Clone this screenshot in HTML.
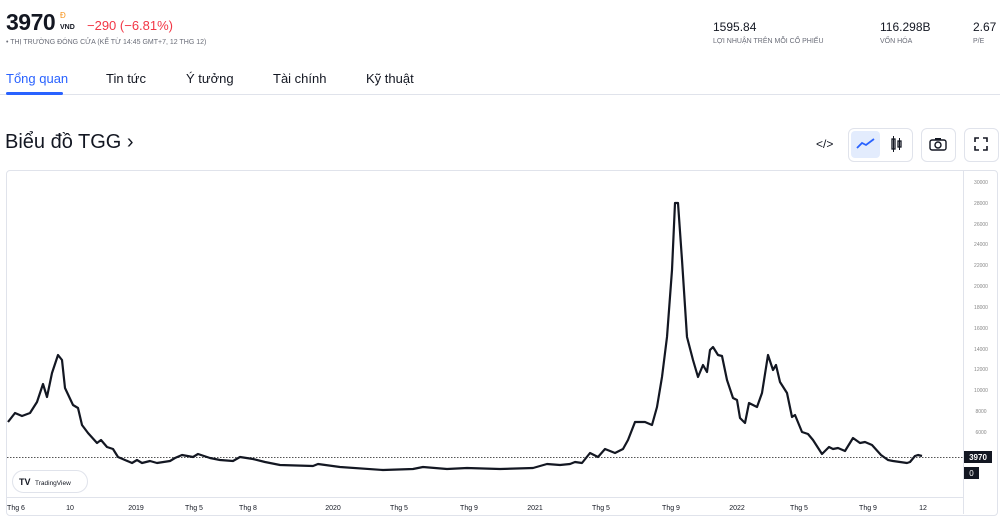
<!DOCTYPE html>
<html><head><meta charset="utf-8"><style>
body{margin:0;width:1000px;height:525px;overflow:hidden;background:#fff;font-family:"Liberation Sans",sans-serif;color:#131722;position:relative}
.a{position:absolute;white-space:nowrap}
</style></head><body>
<div class="a" style="left:6px;top:9px;font-size:23px;font-weight:bold;letter-spacing:-0.5px">3970</div>
<div class="a" style="left:60px;top:11px;font-size:8px;color:#f7931a">Đ</div>
<div class="a" style="left:60px;top:24px;font-size:7px;font-weight:bold">VND</div>
<div class="a" style="left:87px;top:18px;font-size:13px;color:#f23645">−290 (−6.81%)</div>
<div class="a" style="left:6px;top:39px;font-size:7px;color:#6a6d78">• THỊ TRƯỜNG ĐÓNG CỬA (KỂ TỪ 14:45 GMT+7, 12 THG 12)</div>
<div class="a" style="left:713px;top:20px;font-size:12px">1595.84</div>
<div class="a" style="left:713px;top:38px;font-size:7px;color:#6a6d78">LỢI NHUẬN TRÊN MỖI CỔ PHIẾU</div>
<div class="a" style="left:880px;top:20px;font-size:12px">116.298B</div>
<div class="a" style="left:880px;top:38px;font-size:7px;color:#6a6d78">VỐN HÓA</div>
<div class="a" style="left:973px;top:20px;font-size:12px">2.67</div>
<div class="a" style="left:973px;top:38px;font-size:7px;color:#6a6d78">P/E</div>
<div class="a" style="left:6px;top:71px;font-size:13px;color:#2962ff">Tổng quan</div>
<div class="a" style="left:106px;top:71px;font-size:13px">Tin tức</div>
<div class="a" style="left:186px;top:71px;font-size:13px">Ý tưởng</div>
<div class="a" style="left:273px;top:71px;font-size:13px">Tài chính</div>
<div class="a" style="left:366px;top:71px;font-size:13px">Kỹ thuật</div>
<div class="a" style="left:0;top:94px;width:1000px;height:1px;background:#e0e3eb"></div>
<div class="a" style="left:6px;top:92px;width:57px;height:3px;background:#2962ff;border-radius:2px"></div>
<div class="a" style="left:5px;top:131px;font-size:20px">Biểu đồ TGG ›</div>
<div class="a" style="left:816px;top:137px;font-size:12px">&lt;/&gt;</div>
<div class="a" style="left:848px;top:128px;width:63px;height:32px;border:1px solid #e0e3eb;border-radius:6px"></div>
<div class="a" style="left:851px;top:131px;width:29px;height:27px;background:#e3ecfd;border-radius:4px"></div>
<svg class="a" style="left:856px;top:138px" width="20" height="12"><polyline points="1,10 6,5 10,7 18,1" fill="none" stroke="#2962ff" stroke-width="1.8"/></svg>
<svg class="a" style="left:890px;top:136px" width="14" height="16"><rect x="2" y="3" width="3" height="10" fill="none" stroke="#131722" stroke-width="1.3"/><rect x="8" y="5" width="3" height="6" fill="none" stroke="#131722" stroke-width="1.3"/><line x1="3.5" y1="0" x2="3.5" y2="16" stroke="#131722"/><line x1="9.5" y1="2" x2="9.5" y2="14" stroke="#131722"/></svg>
<div class="a" style="left:921px;top:128px;width:33px;height:32px;border:1px solid #e0e3eb;border-radius:6px"></div>
<svg class="a" style="left:929px;top:137px" width="18" height="14"><rect x="1" y="3" width="16" height="10" rx="2" fill="none" stroke="#131722" stroke-width="1.4"/><circle cx="9" cy="8" r="3" fill="none" stroke="#131722" stroke-width="1.4"/><rect x="6" y="1" width="6" height="2" fill="#131722"/></svg>
<div class="a" style="left:964px;top:128px;width:33px;height:32px;border:1px solid #e0e3eb;border-radius:6px"></div>
<svg class="a" style="left:974px;top:137px" width="14" height="14"><path d="M1 5V1H5M9 1H13V5M13 9V13H9M5 13H1V9" fill="none" stroke="#131722" stroke-width="1.6"/></svg>
<div class="a" style="left:6px;top:170px;width:990px;height:344px;border:1px solid #e0e3eb;border-radius:4px"></div>
<svg class="a" style="left:0;top:0" width="1000" height="525">
<line x1="963.5" y1="171" x2="963.5" y2="514" stroke="#e0e3eb"/>
<line x1="7" y1="497.5" x2="963" y2="497.5" stroke="#e0e3eb"/>
<line x1="7" y1="457.5" x2="963" y2="457.5" stroke="#555" stroke-dasharray="1.5,1.5" stroke-width="1"/>
<g font-size="5" fill="#888" text-anchor="middle" font-family="Liberation Sans">
<text x="981" y="184">30000</text><text x="981" y="205">28000</text><text x="981" y="226">26000</text><text x="981" y="246">24000</text><text x="981" y="267">22000</text><text x="981" y="288">20000</text><text x="981" y="309">18000</text><text x="981" y="330">16000</text><text x="981" y="351">14000</text><text x="981" y="371">12000</text><text x="981" y="392">10000</text><text x="981" y="413">8000</text><text x="981" y="434">6000</text>
</g>
<polyline fill="none" stroke="#131722" stroke-width="2.2" stroke-linejoin="round" points="8,422 15,413 22,416 30,413 37,402 43,384 47,397 52,373 58,355 62,360 65,388 73,405 78,408 82,425 88,433 97,443 101,440 107,447 113,449 118,457 132,463 137,460 142,463 150,461 157,463 170,461 175,458 182,455 193,457 198,454 210,458 220,460 233,461 240,457 253,459 265,462 280,465 313,466 318,464 340,467 383,470 413,469 423,467 447,469 467,468 500,469 533,468 547,464 560,465 570,464 575,462 582,463 590,453 598,457 605,449 615,453 623,449 628,440 635,422 645,422 652,425 657,407 662,377 667,337 672,270 675,203 678,203 682,260 687,337 693,360 698,377 703,365 707,372 710,350 713,347 718,355 722,356 727,380 733,398 737,400 740,418 745,423 749,403 757,407 762,393 768,355 773,370 776,365 780,382 787,393 792,417 795,415 802,432 808,434 813,440 822,454 829,447 833,449 838,448 845,451 853,438 860,443 865,442 872,445 881,455 888,460 893,461 907,463 910,462 915,456 918,455 922,456"/>
<rect x="964" y="451" width="28" height="12" fill="#131722"/>
<text x="978" y="460" font-size="8" fill="#fff" text-anchor="middle" font-weight="bold" font-family="Liberation Sans">3970</text>
<rect x="964" y="467" width="15" height="12" fill="#131722"/>
<text x="971.5" y="476" font-size="8" fill="#fff" text-anchor="middle" font-family="Liberation Sans">0</text>
<g font-size="7" fill="#131722" text-anchor="middle" font-family="Liberation Sans">
<text x="16" y="510">Thg 6</text><text x="70" y="510">10</text><text x="136" y="510">2019</text><text x="194" y="510">Thg 5</text><text x="248" y="510">Thg 8</text><text x="333" y="510">2020</text><text x="399" y="510">Thg 5</text><text x="469" y="510">Thg 9</text><text x="535" y="510">2021</text><text x="601" y="510">Thg 5</text><text x="671" y="510">Thg 9</text><text x="737" y="510">2022</text><text x="799" y="510">Thg 5</text><text x="868" y="510">Thg 9</text><text x="923" y="510">12</text>
</g>
<rect x="12.5" y="470.5" width="75" height="22" rx="11" fill="#fff" stroke="#e0e3eb"/>
<text x="19" y="485" font-size="9" font-weight="bold" fill="#131722" font-family="Liberation Sans">TV</text>
<text x="35" y="485" font-size="6.5" fill="#131722" font-family="Liberation Sans">TradingView</text>
</svg>
</body></html>
